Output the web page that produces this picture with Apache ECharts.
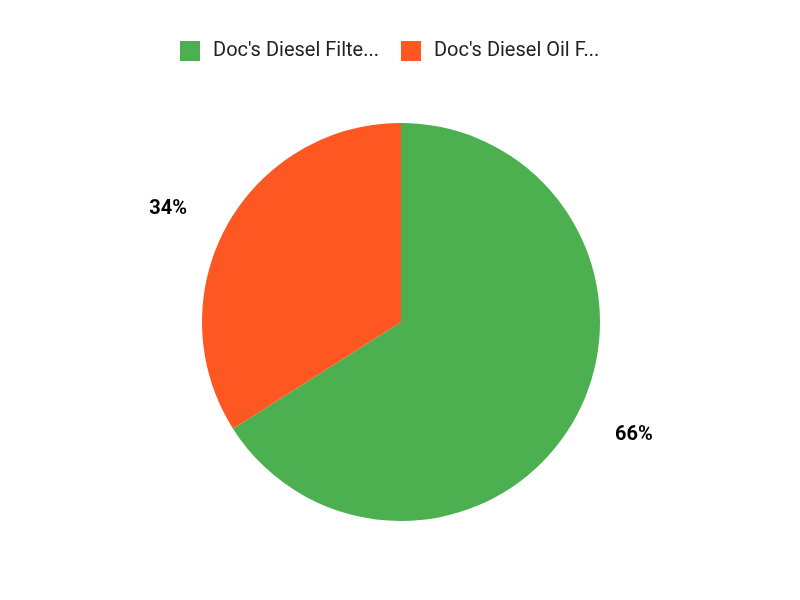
<!DOCTYPE html>
<html>
<head>
<meta charset="utf-8">
<script src="https://cdn.jsdelivr.net/npm/echarts@6/dist/echarts.min.js"></script>
<style>
  html, body { margin: 0; padding: 0; background: #fff; }
  #chart { width: 800px; height: 600px; }
</style>
</head>
<body>
<div id="chart"></div>
<script>
  // values
  var categories = ["Doc's Diesel Filte...", "Doc's Diesel Oil F..."];
  var shares = [66, 34];
  var colors = ["#4caf50", "#ff5722"];

  var chart = echarts.init(document.getElementById("chart"), null, { renderer: "canvas" });

  var data = categories.map(function (c, i) {
    return { name: c, value: shares[i], itemStyle: { color: colors[i] } };
  });

  chart.setOption({
    animation: false,
    textStyle: { fontFamily: "Roboto, sans-serif" },
    legend: {
      top: 36,
      left: 175,
      itemWidth: 20,
      itemHeight: 20,
      itemGap: 22,
      icon: "rect",
      textStyle: {
        fontSize: 20, color: "#222", fontFamily: "Roboto, sans-serif",
        padding: [0, 0, 0, 8]
      }
    },
    series: [{
      type: "pie",
      center: [401, 322],
      radius: 199,
      startAngle: 90,
      clockwise: true,
      data: data,
      label: {
        show: true,
        position: "outside",
        formatter: "{d}%",
        fontSize: 20,
        fontWeight: "bold",
        color: "#000",
        fontFamily: "Roboto, sans-serif"
      },
      labelLine: { show: false, length: 36, length2: 3 },
      emphasis: { disabled: true }
    }]
  });
</script>
</body>
</html>
